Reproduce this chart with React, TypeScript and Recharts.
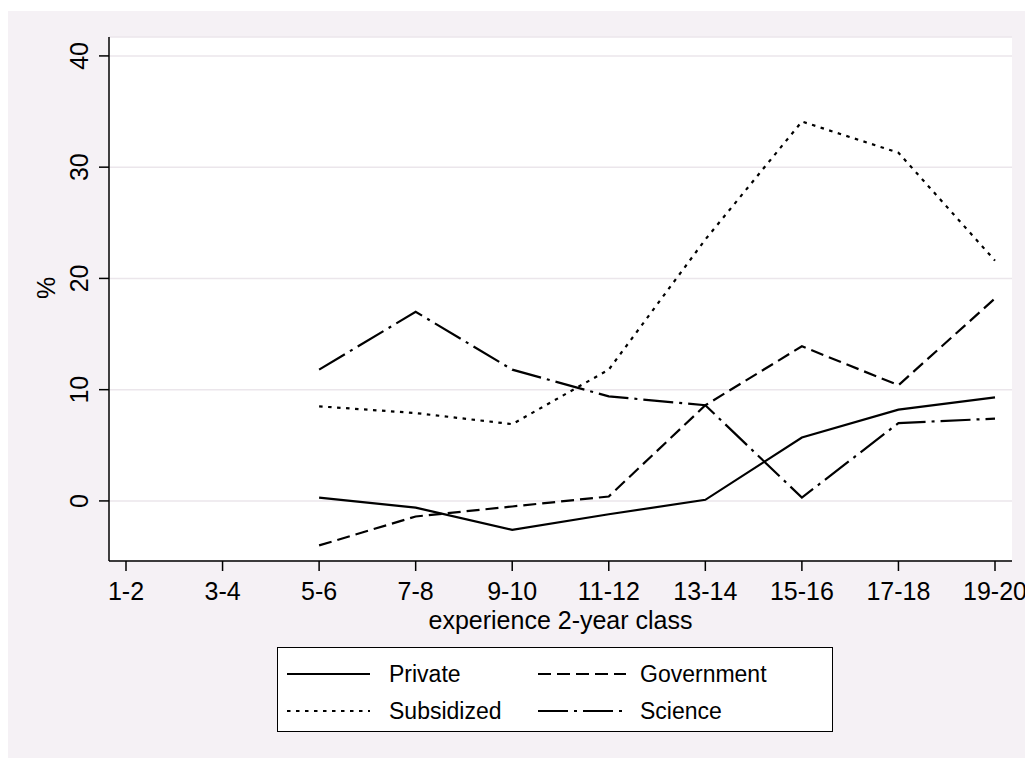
import { LineChart, Line, XAxis, YAxis, CartesianGrid, Label } from 'recharts';

const FONT = '"Liberation Sans", Arial, Helvetica, sans-serif';

const classes = ['1-2', '3-4', '5-6', '7-8', '9-10', '11-12', '13-14', '15-16', '17-18', '19-20'];
const privateShare = [null, null, 0.3, -0.6, -2.6, -1.2, 0.1, 5.7, 8.2, 9.3];
const governmentShare = [null, null, -4.0, -1.4, -0.5, 0.4, 8.6, 13.9, 10.4, 18.2];
const subsidizedShare = [null, null, 8.5, 7.9, 6.9, 11.8, 23.5, 34.1, 31.3, 21.6];
const scienceShare = [null, null, 11.8, 17.0, 11.8, 9.4, 8.6, 0.3, 7.0, 7.4];
const yTicks = [0, 10, 20, 30, 40];

const series = [
  { key: 'private', name: 'Private', dash: undefined as string | undefined },
  { key: 'government', name: 'Government', dash: '13 6' },
  { key: 'subsidized', name: 'Subsidized', dash: '3.5 5.5' },
  { key: 'science', name: 'Science', dash: '30 6 3 6' },
];

const data = classes.map((c, i) => ({
  cls: c,
  private: privateShare[i],
  government: governmentShare[i],
  subsidized: subsidizedShare[i],
  science: scienceShare[i],
}));

function XTick({ x, y, payload }: any) {
  return (
    <text x={x} y={y} dy={29} textAnchor="middle" fontSize={25} fontFamily={FONT} fill="#000">
      {payload.value}
    </text>
  );
}

function YTick({ x, y, payload }: any) {
  const bx = x - 11;
  return (
    <text
      x={bx}
      y={y}
      transform={`rotate(-90, ${bx}, ${y})`}
      textAnchor="middle"
      fontSize={25}
      fontFamily={FONT}
      fill="#000"
    >
      {payload.value}
    </text>
  );
}

function LegendBox() {
  const rows = [
    [series[0], series[1]],
    [series[2], series[3]],
  ];
  return (
    <div
      style={{
        position: 'absolute',
        left: 269,
        top: 636,
        width: 556,
        height: 85,
        boxSizing: 'border-box',
        border: '1.5px solid #000',
        background: '#fff',
        fontFamily: FONT,
        fontSize: 23,
      }}
    >
      {rows.map((row, r) =>
        row.map((s, c) => (
          <div
            key={s.key}
            style={{
              position: 'absolute',
              left: c === 0 ? 8 : 259,
              top: r === 0 ? 11 : 48,
              height: 30,
              display: 'flex',
              alignItems: 'center',
            }}
          >
            <svg width={90} height={30}>
              <line x1={1} y1={15} x2={c === 0 ? 84 : 89} y2={15} stroke="#000" strokeWidth={2.2} strokeDasharray={s.dash} />
            </svg>
            <span style={{ marginLeft: c === 0 ? 13 : 13 }}>{s.name}</span>
          </div>
        ))
      )}
    </div>
  );
}

export default function App() {
  return (
    <div
      style={{
        position: 'absolute',
        left: 8,
        top: 11,
        width: 1017,
        height: 747,
        background: '#f5f1f5',
      }}
    >
      <LineChart width={1017} height={747} data={data} margin={{ top: 26, right: 13, bottom: 137, left: 0 }}>
        <CartesianGrid vertical={false} fill="#ffffff" stroke="#ebe6eb" strokeWidth={1.5} />
        <XAxis
          dataKey="cls"
          padding={{ left: 17, right: 17 }}
          tickSize={10}
          tickMargin={0}
          height={60}
          axisLine={{ stroke: '#000', strokeWidth: 1.5 }}
          tickLine={{ stroke: '#000', strokeWidth: 1.5 }}
          tick={<XTick />}
          interval={0}
        >
          <Label value="experience 2-year class" position="insideBottom" offset={-8} fontSize={25} fontFamily={FONT} fill="#000" />
        </XAxis>
        <YAxis
          domain={[-5.4, 41.7]}
          ticks={yTicks}
          width={101}
          tickSize={10}
          tickMargin={0}
          allowDataOverflow
          axisLine={{ stroke: '#000', strokeWidth: 1.5 }}
          tickLine={{ stroke: '#000', strokeWidth: 1.5 }}
          tick={<YTick />}
        >
          <Label value="%" angle={-90} position="insideLeft" offset={38} fontSize={25} fontFamily={FONT} fill="#000" />
        </YAxis>
        {series.map((s) => (
          <Line
            key={s.key}
            dataKey={s.key}
            name={s.name}
            stroke="#000"
            strokeWidth={2.2}
            strokeDasharray={s.dash}
            dot={false}
            activeDot={false}
            isAnimationActive={false}
            type="linear"
          />
        ))}
      </LineChart>
      <LegendBox />
    </div>
  );
}
